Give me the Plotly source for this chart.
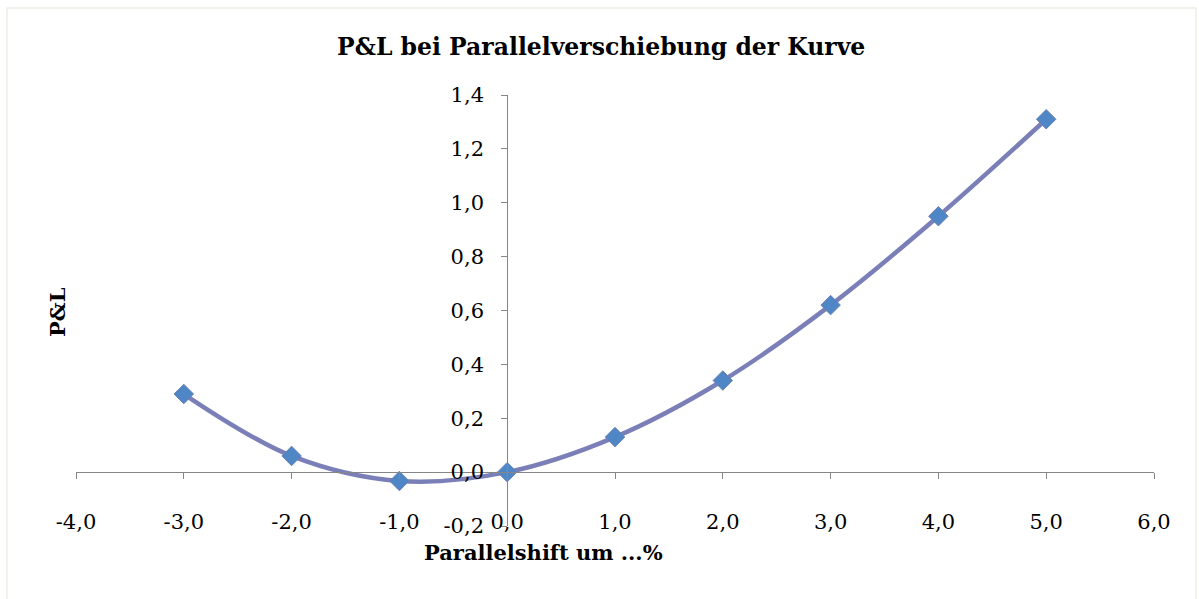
import plotly.graph_objects as go

# P&L of the position for a parallel shift of the yield curve
shift_pct = [-3, -2, -1, 0, 1, 2, 3, 4, 5]
pnl = [0.29, 0.06, -0.033, 0.0, 0.13, 0.34, 0.62, 0.95, 1.31]

x_ticks = [-4, -3, -2, -1, 0, 1, 2, 3, 4, 5, 6]
x_tick_text = ["-4,0", "-3,0", "-2,0", "-1,0", "0,0", "1,0", "2,0", "3,0", "4,0", "5,0", "6,0"]
y_ticks = [-0.2, 0.0, 0.2, 0.4, 0.6, 0.8, 1.0, 1.2, 1.4]
y_tick_text = ["-0,2", "0,0", "0,2", "0,4", "0,6", "0,8", "1,0", "1,2", "1,4"]

FONT = "DejaVu Serif"
AXIS_GREY = "#868686"

W, H = 1199, 599
ML, MR, MT, MB = 76, 45, 95, 73
plot_w = W - ML - MR
plot_h = H - MT - MB

x_range = [x_ticks[0], x_ticks[-1]]
y_range = [y_ticks[0], y_ticks[-1]]

fig = go.Figure()

fig.add_trace(go.Scatter(
    x=shift_pct, y=pnl,
    mode="lines+markers",
    line=dict(color="#7A7FB8", width=4.5, shape="spline", smoothing=1.0),
    marker=dict(symbol="diamond", size=15, color="#4F87C6",
                line=dict(color="#6C80B4", width=1)),
    showlegend=False, hoverinfo="x+y",
))

# carrier trace for the label-only x axis
fig.add_trace(go.Scatter(
    x=shift_pct, y=pnl, xaxis="x2", mode="markers",
    marker=dict(opacity=0), showlegend=False, hoverinfo="skip",
))

# axes cross at the origin, like a spreadsheet chart
y_cross = (0 - y_range[0]) / (y_range[1] - y_range[0])
x_cross = (0 - x_range[0]) / (x_range[1] - x_range[0])

fig.update_layout(
    width=W, height=H,
    margin=dict(l=ML, r=MR, t=MT, b=MB),
    paper_bgcolor="white", plot_bgcolor="white",
    font=dict(family=FONT, color="black", size=21),
    xaxis=dict(
        range=x_range, anchor="free", position=y_cross,
        showline=True, linecolor=AXIS_GREY, linewidth=1,
        ticks="outside", ticklen=6, tickcolor=AXIS_GREY,
        tickvals=x_ticks, showticklabels=False,
        showgrid=False, zeroline=False,
    ),
    xaxis2=dict(
        range=x_range, overlaying="x", anchor="free", position=0.045,
        matches="x", showline=False, ticks="",
        tickvals=x_ticks, ticktext=x_tick_text,
        tickfont=dict(family=FONT, size=21, color="black"),
        showgrid=False, zeroline=False,
    ),
    yaxis=dict(
        range=y_range, anchor="free", position=x_cross,
        showline=True, linecolor=AXIS_GREY, linewidth=1,
        ticks="outside", ticklen=6, tickcolor=AXIS_GREY,
        tickvals=y_ticks, ticktext=y_tick_text,
        tickfont=dict(family=FONT, size=21, color="black"),
        ticklabelstandoff=13,
        showgrid=False, zeroline=False,
    ),
    annotations=[
        dict(text="<b>P&L bei Parallelverschiebung der Kurve</b>",
             xref="paper", yref="paper",
             x=(601 - ML) / plot_w, y=(H - MB - 47) / plot_h,
             xanchor="center", yanchor="middle", showarrow=False,
             font=dict(family=FONT, size=23.5, color="black")),
        dict(text="<b>Parallelshift um ...%</b>",
             xref="paper", yref="paper",
             x=(543 - ML) / plot_w, y=(H - MB - 552) / plot_h,
             xanchor="center", yanchor="middle", showarrow=False,
             font=dict(family=FONT, size=21, color="black")),
        dict(text="<b>P&L</b>", textangle=-90,
             xref="paper", yref="paper",
             x=(57 - ML) / plot_w, y=(H - MB - 312) / plot_h,
             xanchor="center", yanchor="middle", showarrow=False,
             font=dict(family=FONT, size=21, color="black")),
    ],
    shapes=[
        dict(type="rect", xref="paper", yref="paper", layer="below",
             x0=(7 - ML) / plot_w, x1=(1196 - ML) / plot_w,
             y0=(H - MB - 610) / plot_h, y1=(H - MB - 8) / plot_h,
             line=dict(color="#EEEEE8", width=1.5)),
    ],
)

fig.write_html("out.html")
